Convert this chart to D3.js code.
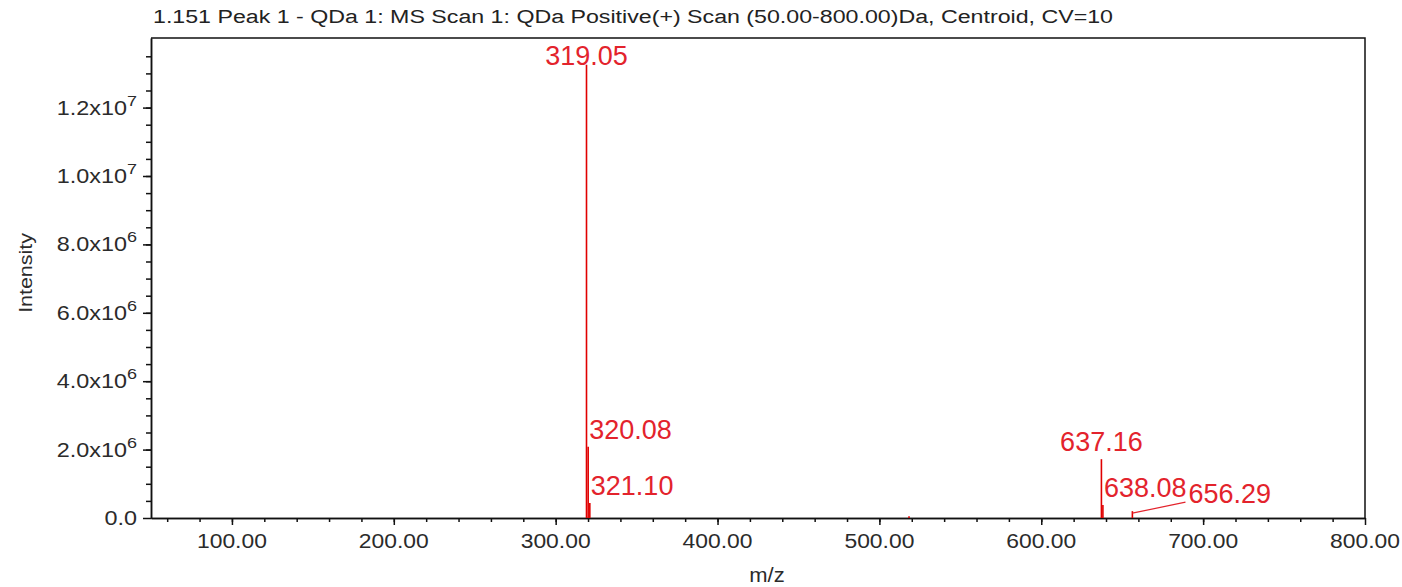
<!DOCTYPE html>
<html>
<head>
<meta charset="utf-8">
<script src="https://cdn.jsdelivr.net/npm/d3@7"></script>
<style>
    body { margin: 0; background: #fff; }
    svg text { font-family: "Liberation Sans", Arial, sans-serif; }
</style>
</head>
<body>
<svg id="chart"></svg>
<script>
const width = 1402;
const height = 587;
const margin = { top: 38, right: 37, bottom: 69, left: 151 };

const title = "1.151 Peak 1 - QDa 1: MS Scan 1: QDa Positive(+) Scan (50.00-800.00)Da, Centroid, CV=10";
const xTitle = "m/z";
const yTitle = "Intensity";

// centroid peaks
const peakMz = [319.05, 320.08, 321.10, 518.3, 637.16, 638.08, 656.29];
const peakIntensity = [13.25e6, 2.08e6, 0.44e6, 0.05e6, 1.72e6, 0.38e6, 0.2e6];
const labelledMz = [319.05, 320.08, 321.10, 637.16, 638.08, 656.29];

const xTicks = [100, 200, 300, 400, 500, 600, 700, 800];
const xTickLabels = ["100.00", "200.00", "300.00", "400.00", "500.00", "600.00", "700.00", "800.00"];
const yTicks = [0, 2e6, 4e6, 6e6, 8e6, 1e7, 1.2e7];
const yTickMantissa = ["0.0", "2.0x10", "4.0x10", "6.0x10", "8.0x10", "1.0x10", "1.2x10"];
const yTickExponent = ["", "6", "6", "6", "6", "7", "7"];

const svg = d3.select("#chart").attr("width", width).attr("height", height);

const x = d3.scaleLinear().domain([50, 800]).range([margin.left, width - margin.right]);
const y = d3.scaleLinear().domain([0, 1.4035e7]).range([height - margin.bottom, margin.top]);

const [x0, x1] = x.range();
const [y0, y1] = y.range();

// Axes: major + minor ticks
const xAxisG = svg.append("g").attr("transform", `translate(0,${y0})`);
xAxisG.append("g")
    .call(d3.axisBottom(x).tickValues(d3.range(60, 800, 20)).tickSize(4).tickSizeOuter(0).tickFormat(""));
xAxisG.append("g")
    .call(d3.axisBottom(x).tickValues(xTicks).tickSize(7).tickSizeOuter(0).tickFormat(""));

const yAxisG = svg.append("g").attr("transform", `translate(${x0},0)`);
yAxisG.append("g")
    .call(d3.axisLeft(y).tickValues(d3.range(5e5, 1.4e7, 5e5)).tickSize(5).tickSizeOuter(0).tickFormat(""));
yAxisG.append("g")
    .call(d3.axisLeft(y).tickValues(yTicks).tickSize(8).tickSizeOuter(0).tickFormat(""));

svg.selectAll(".domain, .tick line").attr("stroke", "#111").attr("stroke-width", 1.5);

// frame top and right
svg.append("path")
    .attr("d", `M${x0},${y1}H${x1}V${y0}`)
    .attr("fill", "none")
    .attr("stroke", "#111")
    .attr("stroke-width", 1.5);

const stretched = (x, y, sx) =>
    svg.append("text").attr("transform", `translate(${x},${y}) scale(${sx},1)`);

// x tick labels
xTicks.forEach((v, i) => {
    stretched(x(v), y0 + 30, 1.09)
        .attr("text-anchor", "middle")
        .attr("font-size", 21)
        .attr("fill", "#2b2b2b")
        .text(xTickLabels[i]);
});

// y tick labels with superscript exponents
yTicks.forEach((v, i) => {
    const t = stretched(x0 - 14, y(v) + 7, 1.2)
        .attr("text-anchor", "end")
        .attr("font-size", 19.5)
        .attr("fill", "#2b2b2b");
    t.append("tspan").text(yTickMantissa[i]);
    if (yTickExponent[i]) {
        t.append("tspan").attr("dy", -9).attr("font-size", 15).text(yTickExponent[i]);
    }
});

// titles
svg.append("text")
    .attr("x", 153)
    .attr("y", 23)
    .attr("font-size", 18)
    .attr("fill", "#222")
    .attr("textLength", 960)
    .attr("lengthAdjust", "spacingAndGlyphs")
    .text(title);

stretched(767, 582, 1.1)
    .attr("text-anchor", "middle")
    .attr("font-size", 20)
    .attr("fill", "#2b2b2b")
    .text(xTitle);

svg.append("text")
    .attr("transform", `translate(32,273) rotate(-90) scale(1.19,1)`)
    .attr("text-anchor", "middle")
    .attr("font-size", 18)
    .attr("fill", "#2b2b2b")
    .text(yTitle);

// peak sticks
const peaks = peakMz.map((mz, i) => ({ mz, value: peakIntensity[i] }));

svg.append("g")
    .selectAll("line")
    .data(peaks)
    .join("line")
    .attr("x1", d => x(d.mz))
    .attr("x2", d => x(d.mz))
    .attr("y1", y(0))
    .attr("y2", d => y(d.value))
    .attr("stroke", "#e00000")
    .attr("stroke-width", 1.6);

// peak labels: tallest first, centred above, else to the right of the stick,
// else pushed right past whatever it hits, with a leader line
const labelG = svg.append("g");
const placed = [];
const gap = 8;
const asc = 20;

const hits = (b, self) =>
    placed.some(p => b.l < p.r && b.r > p.l && b.t < p.b && b.b > p.t) ||
    peaks.some(p => p !== self && x(p.mz) > b.l && x(p.mz) < b.r && y(p.value) < b.b);

peaks
    .filter(p => labelledMz.includes(p.mz))
    .sort((a, b) => b.value - a.value)
    .forEach(p => {
        const px = x(p.mz);
        const py = y(p.value);
        const base = Math.max(py - gap, y1 + 27);
        const t = labelG.append("text")
            .attr("font-size", 27)
            .attr("fill", "#e3232c")
            .text(p.mz.toFixed(2));
        const w = t.node().getComputedTextLength();

        let box = { l: px - w / 2, r: px + w / 2, t: base - asc, b: base };
        let leader = false;
        if (hits(box, p)) {
            box = { l: px + 1, r: px + 1 + w, t: base - asc, b: base };
            while (hits(box, p)) {
                const blocker = placed.find(q => box.l < q.r && box.r > q.l && box.t < q.b && box.b > q.t);
                if (!blocker) break;
                box = { l: blocker.r + 2, r: blocker.r + 2 + w, t: box.t, b: box.b };
                leader = true;
            }
        }
        t.attr("x", box.l).attr("y", base);
        placed.push(box);

        if (leader) {
            labelG.append("line")
                .attr("x1", px)
                .attr("y1", py + 2)
                .attr("x2", box.l - 3)
                .attr("y2", base - 1)
                .attr("stroke", "#e3232c")
                .attr("stroke-width", 1.2);
        }
    });
</script>
</body>
</html>
